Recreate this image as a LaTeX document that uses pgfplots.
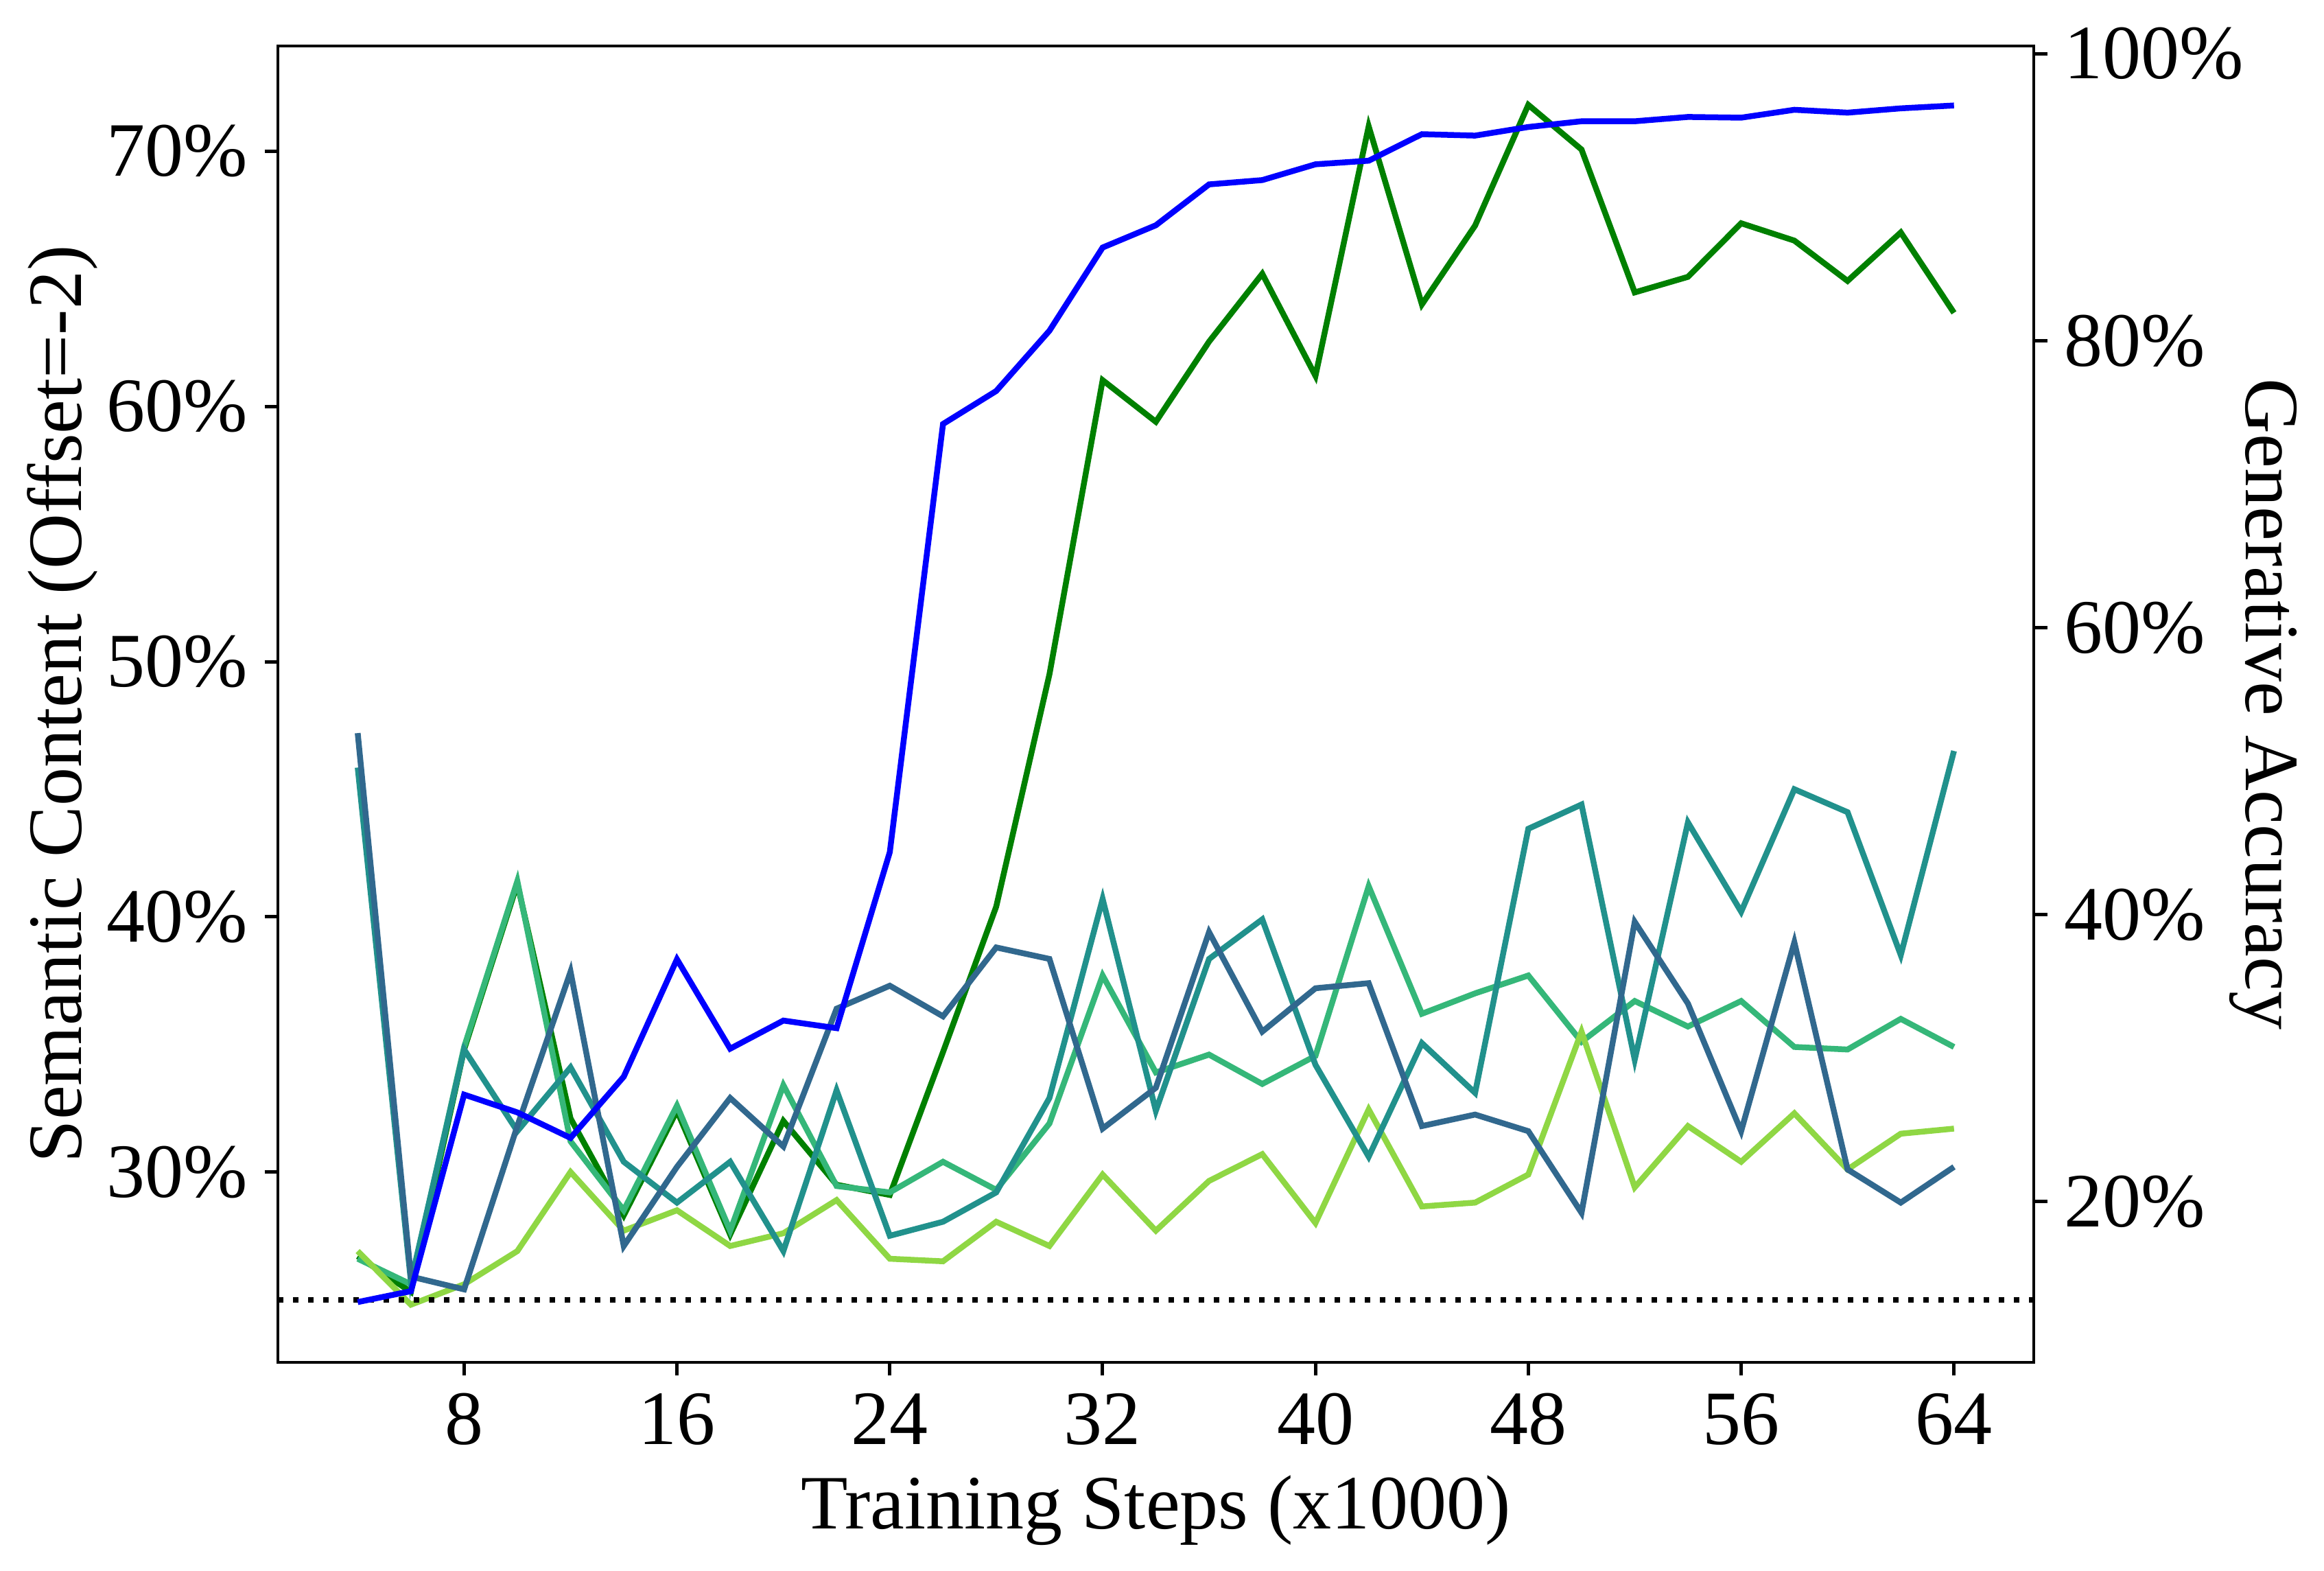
\documentclass[border=0pt]{standalone}
\usepackage{fontspec}
\setmainfont{Liberation Serif}
\usepackage{pgfplots}
\pgfplotsset{compat=1.18}
\usepackage{pgfplotstable}

\definecolor{cgreen}{HTML}{008000}
\definecolor{cmed}{HTML}{35B779}
\definecolor{clight}{HTML}{8FD744}
\definecolor{cteal}{HTML}{21918C}
\definecolor{cslate}{HTML}{31688E}
\definecolor{cblue}{HTML}{0000FF}

\pgfplotstableread{
x  g      m      l      t      s
4  26.7   26.6   26.9   45.85  47.2
6  25.3   25.6   24.8   25.7   25.9
8  34.8   34.9   25.6   34.8   25.4
10 41.3   41.4   26.9   31.6   31.8
12 32.1   31.2   30.0   34.1   37.85
14 28.3   28.5   27.7   30.4   27.1
16 32.4   32.6   28.5   28.8   30.2
18 27.55  27.7   27.1   30.4   32.9
20 32.0   33.4   27.6   26.9   31.0
22 29.5   29.45  28.9   33.2   36.4
24 29.1   29.2   26.6   27.5   37.3
26 34.7   30.4   26.5   28.05  36.1
28 40.4   29.3   28.05  29.2   38.8
30 49.5   31.9   27.1   32.9   38.35
32 61.03  37.7   29.9   40.7   31.7
34 59.4   33.9   27.7   32.4   33.3
36 62.54  34.6   29.65  38.35  39.4
38 65.2   33.45  30.7   39.9   35.5
40 61.2   34.55  28.0   34.2   37.2
42 70.98  41.2   32.45  30.6   37.4
44 64.0   36.2   28.65  35.05  31.8
46 67.09  37.0   28.8   33.1   32.25
48 71.82  37.7   29.9   43.45  31.6
50 70.07  35.1   35.5   44.4   28.4
52 64.47  36.7   29.4   34.4   39.8
54 65.08  35.7   31.8   43.7   36.6
56 67.18  36.7   30.4   40.2   31.6
58 66.5   34.9   32.3   45.0   39.0
60 64.92  34.8   30.1   44.1   30.1
62 66.82  36.0   31.5   38.5   28.8
64 63.67  34.9   31.7   46.5   30.2
}\semtable

\pgfplotstableread{
x  acc
4  13.0
6  13.76
8  27.46
10 26.22
12 24.44
14 28.71
16 36.89
18 30.66
20 32.62
22 32.09
24 44.36
26 74.2
28 76.5
30 80.7
32 86.5
34 88.05
36 90.9
38 91.2
40 92.3
42 92.55
44 94.4
46 94.3
48 94.9
50 95.3
52 95.3
54 95.6
56 95.55
58 96.1
60 95.9
62 96.2
64 96.4
}\acctable

\begin{document}
\begin{tikzpicture}
\pgfplotsset{
  common/.style={
    scale only axis, width=255.9pt, height=191.8pt,
    at={(0,0)}, anchor=south west,
    xmin=1, xmax=67,
    tick align=outside, major tick length=1.95pt,
    every tick/.style={line width=0.5pt, black},
    axis line style={line width=0.45pt},
    /pgf/number format/assume math mode=true,
    tick label style={font=\fontsize{11.2}{13}\selectfont},
    label style={font=\fontsize{11.2}{13}\selectfont},
    clip=true,
  }
}
\begin{axis}[common,
  ymin=22.54, ymax=74.13,
  xtick={8,16,...,64}, ytick={30,40,...,70},
  xtick pos=lower, ytick pos=left,
  yticklabel={\pgfmathprintnumber[fixed,precision=0]{\tick}\%},
  xticklabel style={anchor=base, yshift=-10.0pt},
  yticklabel style={anchor=east, inner sep=0pt, xshift=-2.3pt},
  xlabel={Training Steps (x1000)},
  xlabel style={at={(axis description cs:0.5,-0.1262)}, anchor=base},
  ylabel={Semantic Content (Offset=-2)},
  ylabel style={at={(axis description cs:-0.1227,0.5)}, anchor=center},
]
\addplot[cgreen, line width=0.85pt] table[x=x, y=g]{\semtable};
\addplot[cmed, line width=0.85pt] table[x=x, y=m]{\semtable};
\addplot[clight, line width=0.85pt] table[x=x, y=l]{\semtable};
\addplot[cteal, line width=0.85pt] table[x=x, y=t]{\semtable};
\addplot[cslate, line width=0.85pt] table[x=x, y=s]{\semtable};
\addplot[black, line width=0.8pt, dash pattern=on 0.75pt off 1.45pt] coordinates {(1,25) (67,25)};
\end{axis}
\begin{axis}[common,
  ymin=8.8, ymax=100.55,
  axis x line=none, axis y line*=right,
  ytick={20,40,...,100},
  yticklabel={\pgfmathprintnumber[fixed,precision=0]{\tick}\%},
  yticklabel style={anchor=west, inner sep=0pt, xshift=2.3pt},
  ylabel={Generative Accuracy},
  ylabel style={at={(axis description cs:1.1305,0.5)}, anchor=center, rotate=180},
]
\addplot[cblue, line width=0.85pt] table[x=x, y=acc]{\acctable};
\end{axis}
\pgfresetboundingbox
\path[use as bounding box] (-40.5pt,-30.4pt) rectangle (298.2pt,198.5pt);
\end{tikzpicture}
\end{document}
